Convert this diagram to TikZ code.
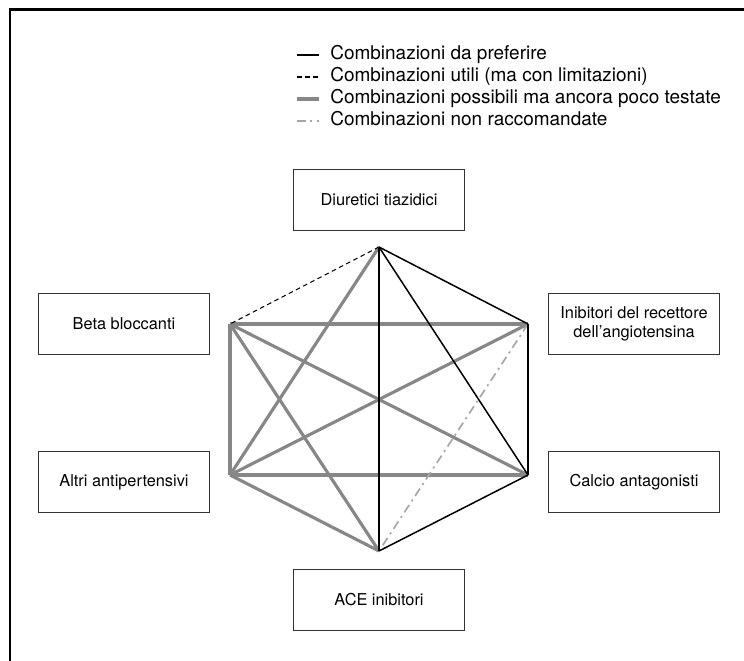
\documentclass[tikz,border=0pt]{standalone}
\usepackage{fontspec}
\setmainfont{TeX Gyre Heros}
\usetikzlibrary{positioning}

\begin{document}
\begin{tikzpicture}[node distance={4mm}, auto=center]
                \tikzstyle{drug} = [rectangle, draw=black!80, line width=0.6pt, minimum width=3.42cm, minimum height=1.22cm, align=center, font=\fontsize{9.3}{10.8}\selectfont]
                \tikzstyle{legtext} = [anchor=west, inner sep=0pt, text height=7.5pt, text depth=2pt, font=\fontsize{10.8}{13}\selectfont]
                \tikzstyle{pref} = [black, line width=0.85pt]
                \tikzstyle{util} = [black, line width=0.6pt, dash pattern=on 2.6pt off 2pt]
                \tikzstyle{poss} = [black!47, line width=1.8pt]
                \tikzstyle{nonr} = [black!35, line width=0.95pt, dash pattern=on 5pt off 2.5pt on 1.2pt off 2.5pt]

                \useasboundingbox (0,0) rectangle (14.88,-13.22);

                % Frame (top and left side only)
                \draw[line width=1.7pt] (14.88,-0.19) -- (0.2,-0.19) -- (0.2,-13.22);

                % Legend
                \node[legtext] (leg1) at (6.6,-1.1) {Combinazioni da preferire};
                \node[legtext] (leg2) at (6.6,-1.54) {Combinazioni utili (ma con limitazioni)};
                \node[legtext] (leg3) at (6.6,-1.98) {Combinazioni possibili ma ancora poco testate};
                \node[legtext] (leg4) at (6.6,-2.42) {Combinazioni non raccomandate};
                \draw[pref] ([xshift=-6.6mm]leg1.west) -- ([xshift=-2.2mm]leg1.west);
                \draw[util] ([xshift=-6.6mm]leg2.west) -- ([xshift=-2.2mm]leg2.west);
                \draw[poss] ([xshift=-6.6mm]leg3.west) -- ([xshift=-2.2mm]leg3.west);
                \draw[nonr] ([xshift=-6.6mm]leg4.west) -- ([xshift=-2.2mm]leg4.west);

                % Hexagon corners
                \coordinate (dt) at (7.58,-4.94);
                \coordinate (bb) at (4.60,-6.48);
                \coordinate (ar) at (10.56,-6.48);
                \coordinate (aa) at (4.60,-9.50);
                \coordinate (ca) at (10.56,-9.50);
                \coordinate (ace) at (7.58,-11.02);

                % Drug classes
                \node[drug] (diur) [above=3.2mm of dt] {Diuretici tiazidici};
                \node[drug] (beta) [left=4mm of bb] {Beta bloccanti};
                \node[drug] (altri) [left=4mm of aa, yshift=-1.4mm] {Altri antipertensivi};
                \node[drug] (arb) [right=4mm of ar] {Inibitori del recettore\\dell’angiotensina};
                \node[drug] (calc) [right=4mm of ca, yshift=-1.4mm] {Calcio antagonisti};
                \node[drug] (acei) [below=3.6mm of ace] {ACE inibitori};

                % Combinations
                \draw[poss] (dt) -- (aa);
                \draw[poss] (bb) -- (ar);
                \draw[poss] (bb) -- (aa);
                \draw[poss] (bb) -- (ca);
                \draw[poss] (bb) -- (ace);
                \draw[poss] (ar) -- (aa);
                \draw[poss] (aa) -- (ca);
                \draw[poss] (aa) -- (ace);
                \draw[nonr] (ar) -- (ace);
                \draw[util] (dt) -- (bb);
                \draw[pref] (dt) -- (ar);
                \draw[pref] (dt) -- (ca);
                \draw[pref] (dt) -- (ace);
                \draw[pref] (ar) -- (ca);
                \draw[pref] (ca) -- (ace);
            \end{tikzpicture}
\end{document}
